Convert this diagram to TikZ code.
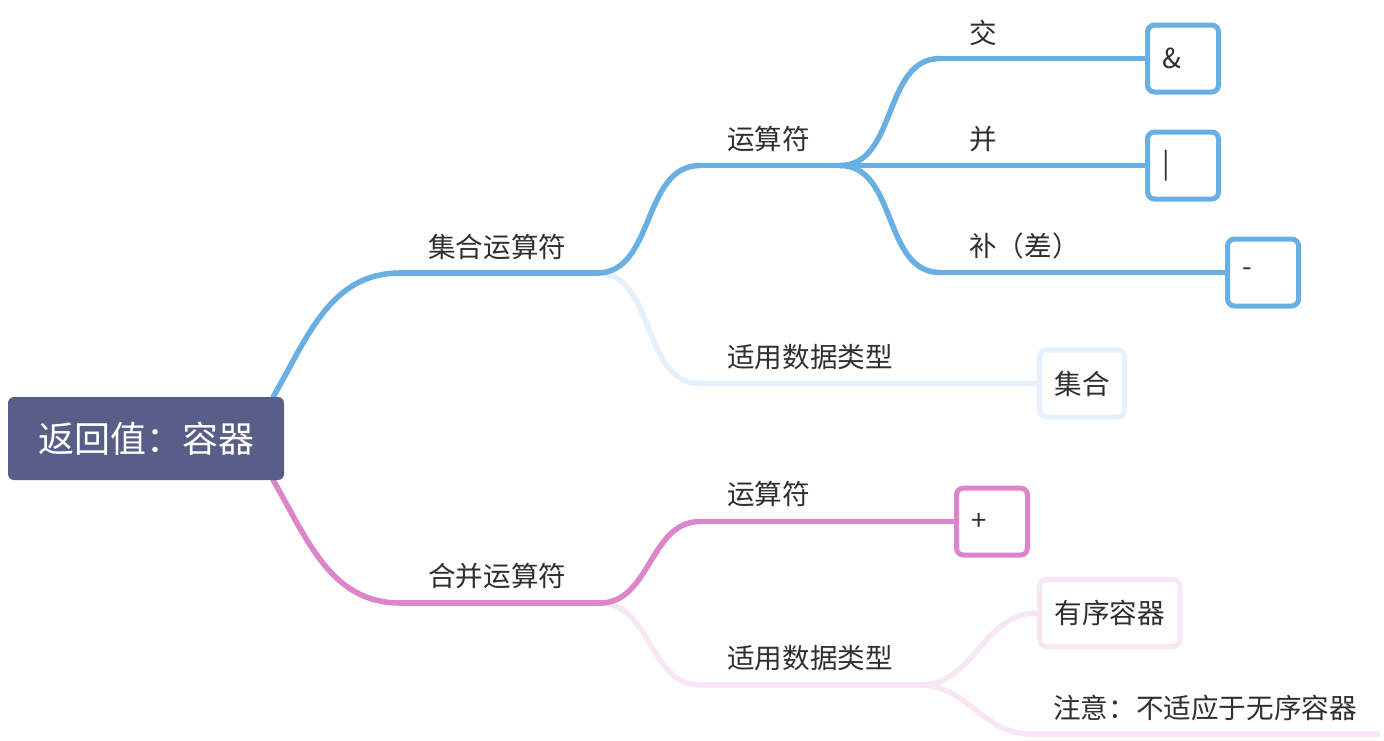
\documentclass[tikz,border=0pt]{standalone}
\usepackage{fontspec}
\setmainfont{Noto Sans CJK SC}
\usetikzlibrary{backgrounds}

\definecolor{rootfill}{HTML}{585E87}
\definecolor{setblue}{HTML}{68B0E3}
\definecolor{setpale}{HTML}{E4F1FC}
\definecolor{addpink}{HTML}{DC85CB}
\definecolor{addpale}{HTML}{F9E6F4}
\definecolor{ink}{HTML}{2F2F2F}

\tikzset{
    topic/.style={fill=rootfill, text=white, rounded corners=6pt,
        minimum width=276pt, minimum height=83pt, inner sep=0pt,
        font=\fontsize{36}{40}\selectfont},
    lbl/.style={anchor=west, inner sep=0pt, text=ink,
        font=\fontsize{27.6}{32}\selectfont},
    leaf/.style={draw=#1, line width=5pt, rounded corners=7pt, fill=white,
        text=ink, minimum height=67pt, inner xsep=15pt, anchor=west,
        font=\fontsize{27.6}{32}\selectfont},
    opbox/.style={leaf=#1, text width=41pt, align=left},
    branch/.style={draw=#1, line width=5.5pt, line cap=round},
}

\begin{document}
\begin{tikzpicture}[x=1pt, y=-1pt]
        \useasboundingbox (0,0) rectangle (1384,740);
        \node[topic] (root) at (146,438.5) {返回值：容器};
        % labels
        \node[lbl] (set) at (428,247) {集合运算符};
        \node[lbl] (set_op) at (727,139) {运算符};
        \node[lbl] (and) at (969,33) {交};
        \node[lbl] (or) at (969,139) {并};
        \node[lbl] (diff) at (969,246) {补（差）};
        \node[lbl] (set_type) at (727,357) {适用数据类型};
        \node[lbl] (add) at (428,576) {合并运算符};
        \node[lbl] (add_op) at (727,494) {运算符};
        \node[lbl] (add_type) at (727,658) {适用数据类型};
        \node[lbl] (note) at (1053,708) {注意：不适应于无序容器};
        % boxes
        \node[opbox=setblue] (and_box) at (1145,58.5) {\&};
        \node[opbox=setblue] (or_box) at (1145,165.5) {|};
        \node[opbox=setblue] (diff_box) at (1225,272.5) {-};
        \node[leaf=setpale] (set_box) at (1037,383.5) {集合};
        \node[opbox=addpink] (add_box) at (954,521.5) {+};
        \node[leaf=addpale] (seq_box) at (1037,613) {有序容器};
        % line ends
        \coordinate (set_in) at (400,273);
        \coordinate (set_j) at (597,273);
        \coordinate (set_op_in) at (700,165.5);
        \coordinate (set_op_j) at (840,165.5);
        \coordinate (and_in) at (940,58.5);
        \coordinate (diff_in) at (940,272.5);
        \coordinate (set_type_in) at (700,383.5);
        \coordinate (add_in) at (400,603);
        \coordinate (add_j) at (600,603);
        \coordinate (add_op_in) at (700,521.5);
        \coordinate (add_type_in) at (700,685);
        \coordinate (add_type_j) at (920,685);
        \coordinate (note_in) at (1030,734);
        \coordinate (note_end) at (1378,734);

        \begin{pgfonlayer}{background}
        \path[branch=setpale]
                (set_j) edge [out=0, in=180] (set_type_in)
                (set_type_in) edge (set_box.west);
        \path[branch=addpale]
                (add_j) edge [out=0, in=180] (add_type_in)
                (add_type_in) edge (add_type_j)
                (add_type_j) edge [out=0, in=180] (seq_box.west)
                    edge [out=0, in=180] (note_in)
                (note_in) edge (note_end);
        \path[branch=setblue]
                ([xshift=-11pt]root.north east) edge [out=60, in=180] (set_in)
                (set_in) edge (set_j)
                (set_j) edge [out=0, in=180] (set_op_in)
                (set_op_in) edge (set_op_j)
                (set_op_j) edge [out=0, in=180] (and_in)
                    edge (or_box.west)
                    edge [out=0, in=180] (diff_in)
                (and_in) edge (and_box.west)
                (diff_in) edge (diff_box.west);
        \path[branch=addpink]
                ([xshift=-11pt]root.south east) edge [out=-60, in=180] (add_in)
                (add_in) edge (add_j)
                (add_j) edge [out=0, in=180] (add_op_in)
                (add_op_in) edge (add_box.west);
        \end{pgfonlayer}
\end{tikzpicture}
\end{document}
